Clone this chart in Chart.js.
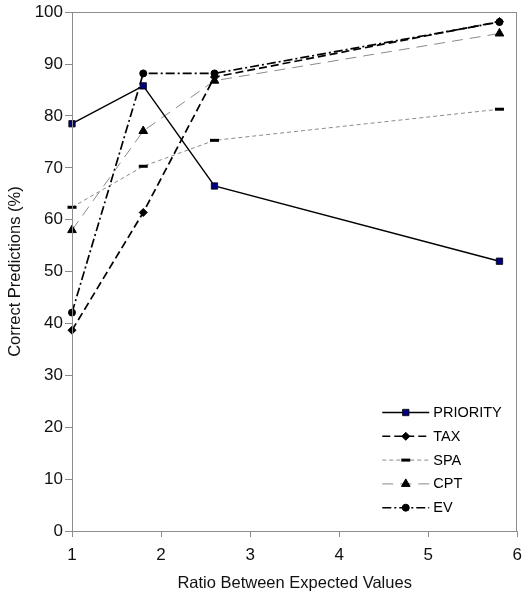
<!DOCTYPE html>
<html>
<head>
<meta charset="utf-8">
<script src="https://cdn.jsdelivr.net/npm/chart.js@4/dist/chart.umd.min.js"></script>
<style>
  html, body { margin: 0; padding: 0; background: #fff; }
  #c { display: block; }
</style>
</head>
<body>
<canvas id="c" width="530" height="600"></canvas>
<script>
// ---- data ----
const ratios   = [1, 1.8, 2.6, 5.8];
const priority = [78.5, 85.8, 66.5, 52.0];
const tax      = [38.7, 61.4, 87.5, 98.2];
const spa      = [62.4, 70.3, 75.3, 81.3];
const cpt      = [58.0, 77.1, 86.8, 95.9];
const ev       = [42.1, 88.2, 88.2, 98.1];
const seriesNames = ['PRIORITY', 'TAX', 'SPA', 'CPT', 'EV'];
const xTickValues = [1, 2, 3, 4, 5, 6];
const yTickValues = [0, 10, 20, 30, 40, 50, 60, 70, 80, 90, 100];

const FONT = 'Liberation Sans, Arial, sans-serif';
const pts = vals => ratios.map((x, i) => ({x: x, y: vals[i]}));

const styles = [
  {borderColor: '#000', borderWidth: 1.4, borderDash: [], pointStyle: 'rect', pointRadius: 4.5,
   pointBackgroundColor: '#000080', pointBorderColor: '#000', pointBorderWidth: 0.8},
  {borderColor: '#000', borderWidth: 1.7, borderDash: [8, 4], pointStyle: 'rectRot', pointRadius: 4,
   pointBackgroundColor: '#000', pointBorderColor: '#000', pointBorderWidth: 1},
  {borderColor: '#8a8a8a', borderWidth: 1, borderDash: [4, 3], pointStyle: 'line', pointRadius: 4.5,
   pointBackgroundColor: '#000', pointBorderColor: '#000', pointBorderWidth: 3},
  {borderColor: '#8a8a8a', borderWidth: 1, borderDash: [11, 7], pointStyle: 'triangle', pointRadius: 5,
   pointBackgroundColor: '#000', pointBorderColor: '#000', pointBorderWidth: 1},
  {borderColor: '#000', borderWidth: 1.7, borderDash: [9, 3, 2, 3], pointStyle: 'circle', pointRadius: 3.5,
   pointBackgroundColor: '#000', pointBorderColor: '#000', pointBorderWidth: 1}
];
const seriesValues = [priority, tax, spa, cpt, ev];

const datasets = seriesNames.map((name, i) => Object.assign({
  label: name,
  data: pts(seriesValues[i]),
  fill: false,
  tension: 0,
  clip: false,
  pointHoverRadius: styles[i].pointRadius
}, styles[i]));

const frameAndLegend = {
  id: 'frameAndLegend',
  afterDraw(chart) {
    const ctx = chart.ctx;
    const a = chart.chartArea;
    ctx.save();
    ctx.strokeStyle = '#8c8c8c';
    ctx.lineWidth = 1;
    ctx.setLineDash([]);
    ctx.strokeRect(Math.round(a.left) + 0.5, Math.round(a.top) + 0.5,
                   Math.round(a.right - a.left) - 1, Math.round(a.bottom - a.top));
    // legend
    const x0 = a.right - 135, x1 = a.right - 88, xm = (x0 + x1) / 2;
    let y = a.bottom - 118.5;
    chart.data.datasets.forEach((ds) => {
      ctx.save();
      ctx.strokeStyle = ds.borderColor;
      ctx.lineWidth = Math.min(ds.borderWidth, 1.4);
      ctx.setLineDash(ds.borderDash || []);
      ctx.beginPath();
      ctx.moveTo(x0, y);
      ctx.lineTo(x1, y);
      ctx.stroke();
      ctx.setLineDash([]);
      ctx.fillStyle = ds.pointBackgroundColor;
      ctx.strokeStyle = ds.pointBorderColor;
      ctx.lineWidth = ds.pointBorderWidth;
      Chart.helpers.drawPoint(ctx, {pointStyle: ds.pointStyle, radius: ds.pointRadius,
        borderWidth: ds.pointBorderWidth, rotation: 0}, xm, y);
      ctx.restore();
      ctx.fillStyle = '#000';
      ctx.font = '14.5px ' + FONT;
      ctx.textBaseline = 'middle';
      ctx.textAlign = 'left';
      ctx.fillText(ds.label, x1 + 4, y + 0.5);
      y += 23.8;
    });
    ctx.restore();
  }
};

new Chart(document.getElementById('c'), {
  type: 'line',
  data: {datasets: datasets},
  plugins: [frameAndLegend],
  options: {
    responsive: false,
    animation: false,
    events: [],
    layout: {padding: {left: 0, right: 10, top: 12, bottom: 0}},
    plugins: {legend: {display: false}, tooltip: {enabled: false}},
    scales: {
      x: {
        type: 'linear',
        min: xTickValues[0],
        max: xTickValues[xTickValues.length - 1],
        afterBuildTicks(s) { s.ticks = xTickValues.map(v => ({value: v})); },
        ticks: {font: {size: 17, family: FONT}, color: '#111', padding: 8, maxRotation: 0},
        grid: {drawOnChartArea: false, drawTicks: true, tickLength: 6, color: '#8c8c8c'},
        border: {color: '#8c8c8c'},
        title: {display: true, text: 'Ratio Between Expected Values', color: '#111',
                font: {size: 16.5, family: FONT}, padding: {top: 0, bottom: 7}},
        afterFit(s) { s.height = 69; }
      },
      y: {
        min: yTickValues[0],
        max: yTickValues[yTickValues.length - 1],
        afterBuildTicks(s) { s.ticks = yTickValues.map(v => ({value: v})); },
        ticks: {font: {size: 17, family: FONT}, color: '#111', padding: 2},
        grid: {drawOnChartArea: false, drawTicks: true, tickLength: 7, color: '#8c8c8c'},
        border: {color: '#8c8c8c'},
        title: {display: true, text: 'Correct Predictions (%)', color: '#111',
                font: {size: 16.5, family: FONT}, padding: {top: 6, bottom: 0}},
        afterFit(s) { s.width = 72; }
      }
    }
  }
});
</script>
</body>
</html>
